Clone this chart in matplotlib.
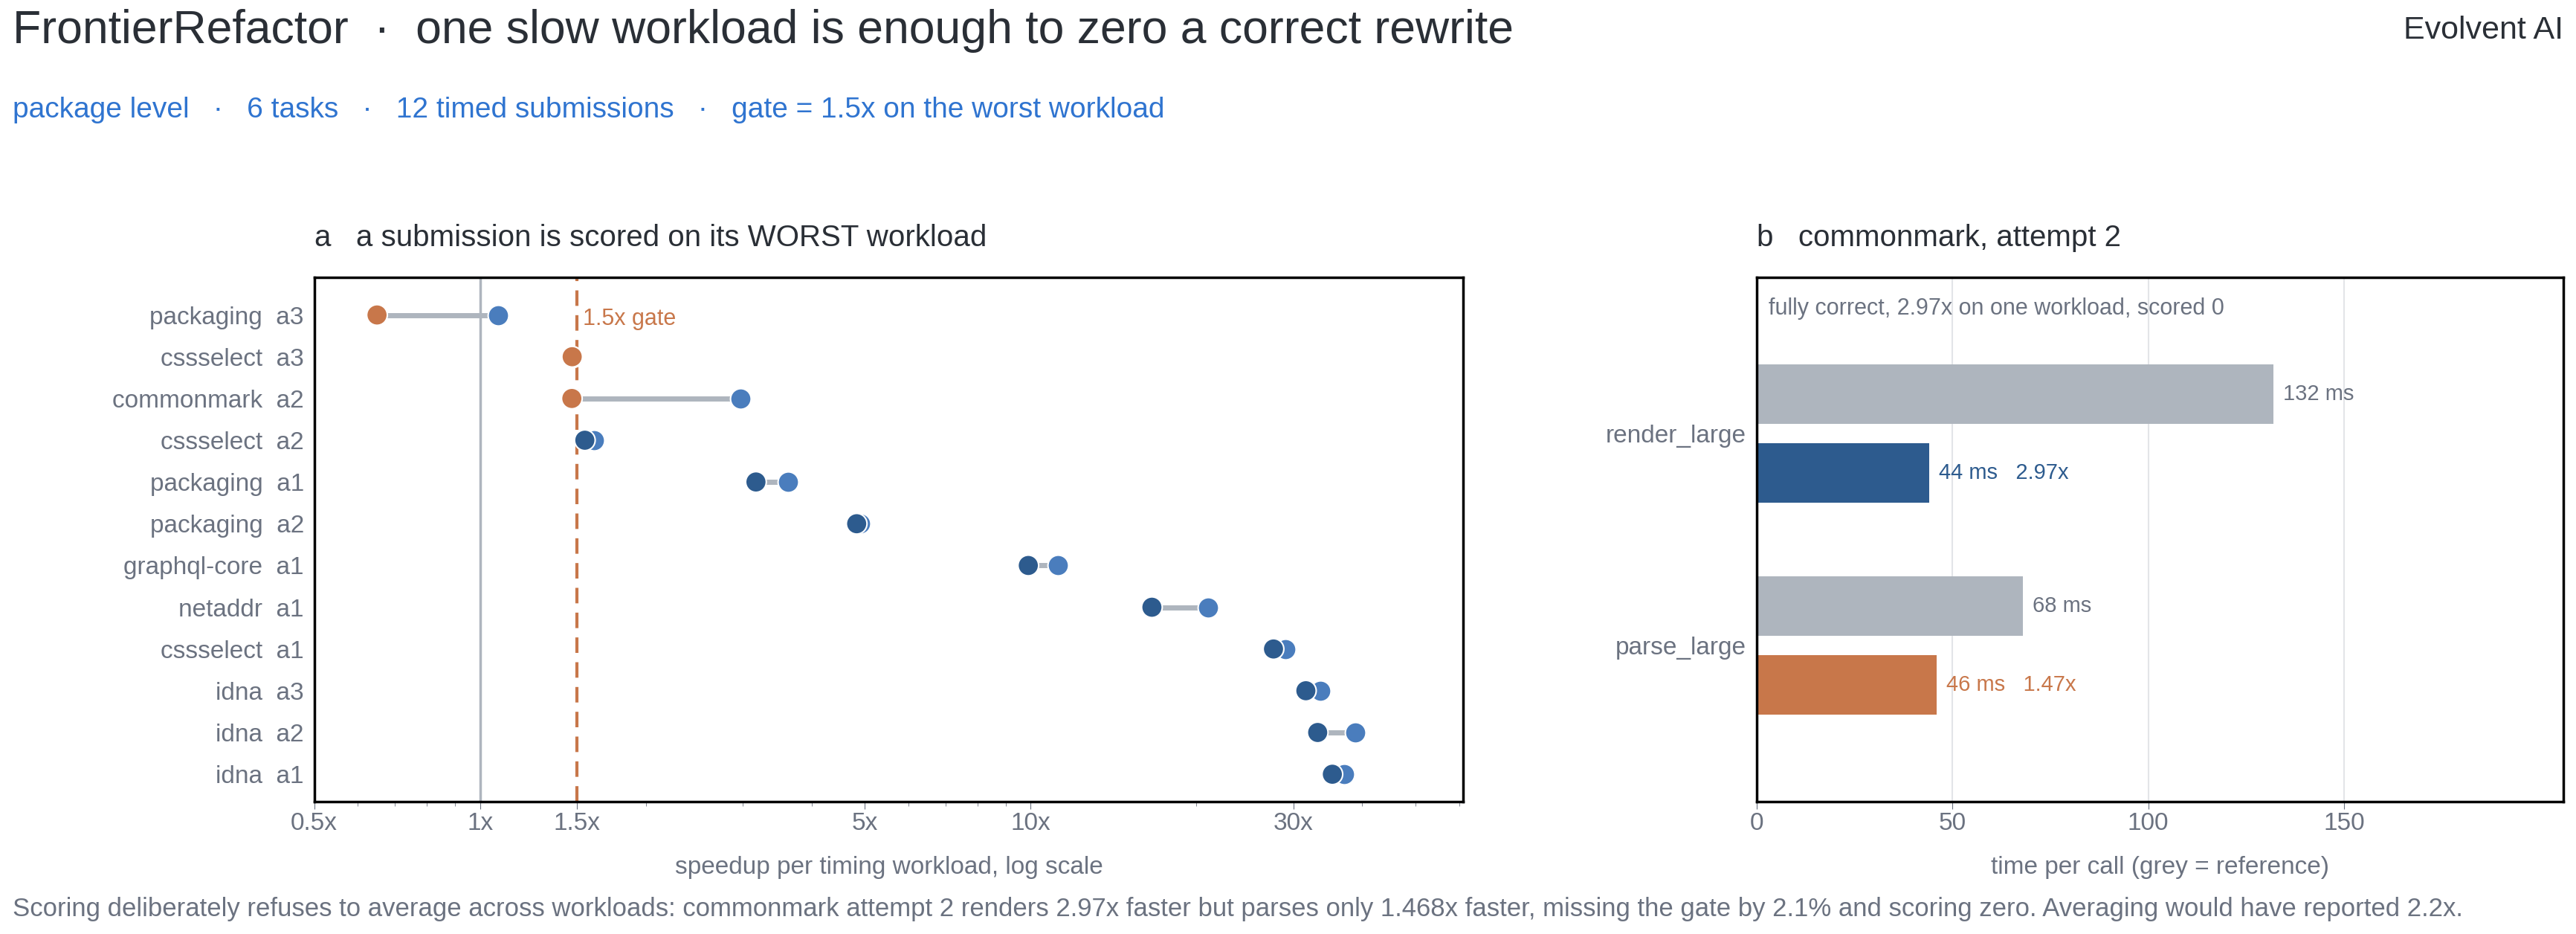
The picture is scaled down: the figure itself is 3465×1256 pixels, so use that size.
import matplotlib.pyplot as plt
import numpy as np

plt.rcParams['font.family'] = ['Liberation Sans', 'DejaVu Sans']

# panel a data
labels = ['packaging  a3', 'cssselect  a3', 'commonmark  a2', 'cssselect  a2',
          'packaging  a1', 'packaging  a2', 'graphql-core  a1', 'netaddr  a1',
          'cssselect  a1', 'idna  a3', 'idna  a2', 'idna  a1']
worst = [0.65, 1.47, 1.468, 1.55, 3.17, 4.83, 9.9, 16.6, 27.6, 31.6, 33.2, 35.3]
best = [1.08, 1.47, 2.97, 1.61, 3.62, 4.9, 11.2, 21.0, 29.0, 33.6, 38.8, 37.1]
gate = 1.5

# panel b data
workloads = ['render_large', 'parse_large']
ref_ms = [132, 68]
sub_ms = [44, 46]
speedups = ['2.97x', '1.47x']

ORANGE = '#C8774A'
DARK = '#2D5B8E'
BLUE = '#4A7DBD'
GREY = '#AEB5BE'
TXT = '#6B7280'
INK = '#2A2F36'

fig = plt.figure(figsize=(34.65, 12.56), dpi=100)
ax1 = fig.add_axes([0.122, 0.142, 0.446, 0.561])
ax2 = fig.add_axes([0.682, 0.142, 0.313, 0.561])

fig.text(0.005, 0.967, 'FrontierRefactor  ·  one slow workload is enough to zero a correct rewrite',
         fontsize=45, color=INK, va='center')
fig.text(0.995, 0.967, 'Evolvent AI', fontsize=31, color=INK, va='center', ha='right')
fig.text(0.005, 0.882, 'package level   ·   6 tasks   ·   12 timed submissions   ·   gate = 1.5x on the worst workload',
         fontsize=28, color='#2F74D0', va='center')
fig.text(0.005, 0.027, 'Scoring deliberately refuses to average across workloads: commonmark attempt 2 renders 2.97x faster '
         'but parses only 1.468x faster, missing the gate by 2.1% and scoring zero. Averaging would have reported 2.2x.',
         fontsize=25, color=TXT, va='center')

# ---- panel a
y = np.arange(len(labels))
ax1.axvline(1, color=GREY, lw=2.5, zorder=1)
ax1.axvline(gate, color=ORANGE, lw=3, ls=(0, (5, 3)), zorder=1)
ax1.text(gate * 1.025, 0.1, '1.5x gate', color=ORANGE, fontsize=22, va='center')
for i in range(len(labels)):
    ax1.plot([worst[i], best[i]], [y[i], y[i]], color=GREY, lw=5, zorder=2, solid_capstyle='butt')
ax1.scatter(best, y, s=400, color=BLUE, edgecolor='white', linewidth=1.5, zorder=3)
wc = [ORANGE if w < gate else DARK for w in worst]
ax1.scatter(worst, y, s=400, color=wc, edgecolor='white', linewidth=1.5, zorder=4)
ax1.set_xscale('log')
ax1.set_xlim(0.5, 61)
ax1.set_ylim(len(labels) - 0.35, -0.9)
ax1.set_yticks(y)
ax1.set_yticklabels(labels)
ax1.set_xticks([0.5, 1, 1.5, 5, 10, 30])
ax1.set_xticklabels(['0.5x', '1x', '1.5x', '5x', '10x', '30x'])
ax1.tick_params(axis='y', length=0, labelsize=24, labelcolor=TXT, pad=10)
ax1.tick_params(axis='x', which='major', length=7, labelsize=24, labelcolor=TXT, color=TXT)
ax1.tick_params(axis='x', which='minor', length=4, color=TXT)
ax1.xaxis.set_minor_formatter(plt.NullFormatter())
ax1.set_xlabel('speedup per timing workload, log scale', fontsize=24, color=TXT, labelpad=20)
ax1.set_title('a   a submission is scored on its WORST workload', loc='left', fontsize=29,
              color=INK, pad=30)

# ---- panel b
yb = np.arange(len(workloads))
off, h = 0.186, 0.28
ax2.barh(yb - off, ref_ms, height=h, color=GREY, zorder=2)
ax2.barh(yb + off, sub_ms, height=h, color=[DARK, ORANGE], zorder=2)
for i in range(len(workloads)):
    ax2.text(ref_ms[i] + 2.5, yb[i] - off, f'{ref_ms[i]} ms', color=TXT, fontsize=21, va='center')
    c = DARK if i == 0 else ORANGE
    ax2.text(sub_ms[i] + 2.5, yb[i] + off, f'{sub_ms[i]} ms   {speedups[i]}', color=c, fontsize=21, va='center')
ax2.text(0.015, 0.94, 'fully correct, 2.97x on one workload, scored 0', transform=ax2.transAxes,
         color=TXT, fontsize=22, va='center')
ax2.set_xlim(0, 206)
ax2.set_ylim(1.737, -0.737)
ax2.set_xticks([0, 50, 100, 150])
ax2.grid(axis='x', color='#E3E5E8', lw=1.5, zorder=0)
ax2.set_yticks(yb)
ax2.set_yticklabels(workloads)
ax2.tick_params(axis='y', length=0, labelsize=24, labelcolor=TXT, pad=10)
ax2.tick_params(axis='x', length=7, labelsize=24, labelcolor=TXT, color=TXT)
ax2.set_xlabel('time per call (grey = reference)', fontsize=24, color=TXT, labelpad=20)
ax2.set_title('b   commonmark, attempt 2', loc='left', fontsize=29, color=INK, pad=30)

for ax in (ax1, ax2):
    for s in ax.spines.values():
        s.set_linewidth(2.5)
        s.set_color('black')

fig.savefig('out.png', dpi=100)
